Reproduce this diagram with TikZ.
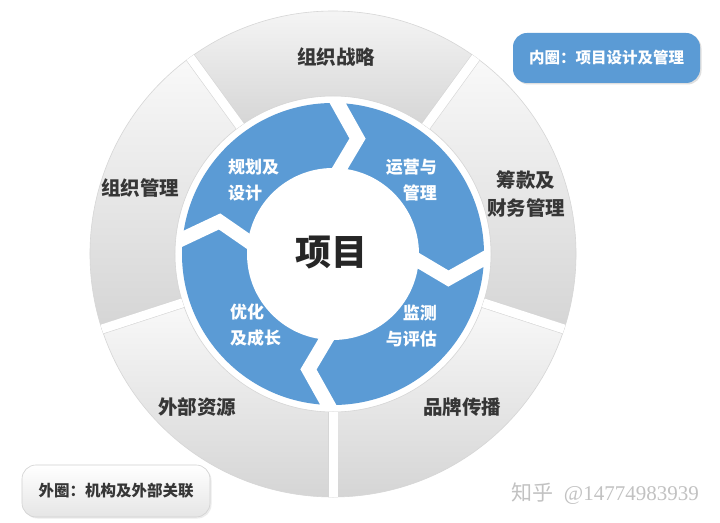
\documentclass[tikz,border=0pt]{standalone}
\usepackage{fontspec}
\setmainfont{Noto Sans CJK SC}
\setsansfont{Noto Sans CJK SC}
\newfontfamily\wmfont{Liberation Serif}
\usetikzlibrary{shadows}
\definecolor{ringblue}{HTML}{5B9BD5}
\definecolor{txtgray}{HTML}{363636}
\definecolor{segtop}{HTML}{F9F9F9}
\definecolor{segbot}{HTML}{D5D5D5}
\definecolor{segline}{HTML}{D6D6D6}
\begin{document}
\begin{tikzpicture}[x=1pt,y=1pt,
  seg/.style={top color=segtop,bottom color=segbot,draw=segline,line width=0.6pt},
  outerlbl/.style={font=\bfseries\fontsize{19.5}{28}\selectfont,text=txtgray,align=center,inner sep=0pt},
  innerlbl/.style={font=\bfseries\fontsize{17}{26}\selectfont,text=white,inner sep=0pt},
  chev/.style={draw=white,line width=14pt,miter limit=10},
  gapline/.style={draw=segline,line width=0.6pt,double=white,double distance=9pt},
  legendblue/.style={fill=ringblue,rounded corners=14pt,minimum width=187pt,minimum height=50pt,
    text=white,font=\bfseries\fontsize{15.5}{18}\selectfont,
    drop shadow={opacity=0.25,shadow xshift=1.5pt,shadow yshift=-1.5pt}},
  legendgray/.style={top color=white,bottom color=black!10,draw=black!18,line width=0.6pt,
    rounded corners=14pt,minimum width=188pt,minimum height=52pt,
    text=txtgray,font=\bfseries\fontsize{15.5}{18}\selectfont,
    drop shadow={opacity=0.15,shadow xshift=1.5pt,shadow yshift=-1.5pt}},
  wmark/.style={text=black!24,font=\fontsize{21}{24}\selectfont,inner sep=0pt},
]
\useasboundingbox (0,0) rectangle (720,522);
\fill[white] (0,0) rectangle (720,522);
\coordinate (C) at (333,268);
\begin{scope}[shift={(C)}]
  % outer ring segments
  \foreach \a/\b in {54/126, -18/54, -90/-18, -162/-90, 126/198} {
    \shade[seg] (\a:158) arc[start angle=\a,end angle=\b,radius=158]
      -- (\b:243) arc[start angle=\b,end angle=\a,radius=243] -- cycle;
  }
  \foreach \a in {54,126,198,270,342}
    \draw[gapline] (\a:158) -- (\a:243);
  % inner blue ring
  \fill[ringblue] (0,0) circle (151);
  \fill[white] (0,0) circle (86);
  \begin{scope}
    \clip (0,0) circle (154);
    \foreach \t in {92,2,-88,178}
      \draw[chev] (\t:170) -- ({\t-14}:118) -- (\t:70);
  \end{scope}
\end{scope}

% outer labels
\node[outerlbl] (zzzl) at (336,465) {组织战略};
\node[outerlbl] (zzgl) at (140,334) {组织管理};
\node[outerlbl] (ckcw) at (526,328) {筹款及\\财务管理};
\node[outerlbl] (ppcb) at (462,115) {品牌传播};
\node[outerlbl] (wbzy) at (197,115) {外部资源};

% inner labels
\node[innerlbl,anchor=west,align=left] (ghsj) at (228,342) {规划及\\设计};
\node[innerlbl,anchor=east,align=right] (yygl) at (437,341.5) {运营与\\管理};
\node[innerlbl,anchor=east,align=right] (jcpg) at (437,195.5) {监测\\与评估};
\node[innerlbl,anchor=west,align=left] (yhcz) at (230,196.5) {优化\\及成长};

% centre
\node[font=\bfseries\fontsize{36}{40}\selectfont,text=black!85] (xm) at (331,269) {项目};

% legends
\node[legendblue] (innerleg) at (606.5,464) {内圈：项目设计及管理};
\node[legendgray] (outerleg) at (116,31) {外圈：机构及外部关联};

% watermark
\node[wmark,anchor=base east] (wm) at (699,22) {知乎\hspace{10pt}{\wmfont @14774983939}};
\end{tikzpicture}
\end{document}
